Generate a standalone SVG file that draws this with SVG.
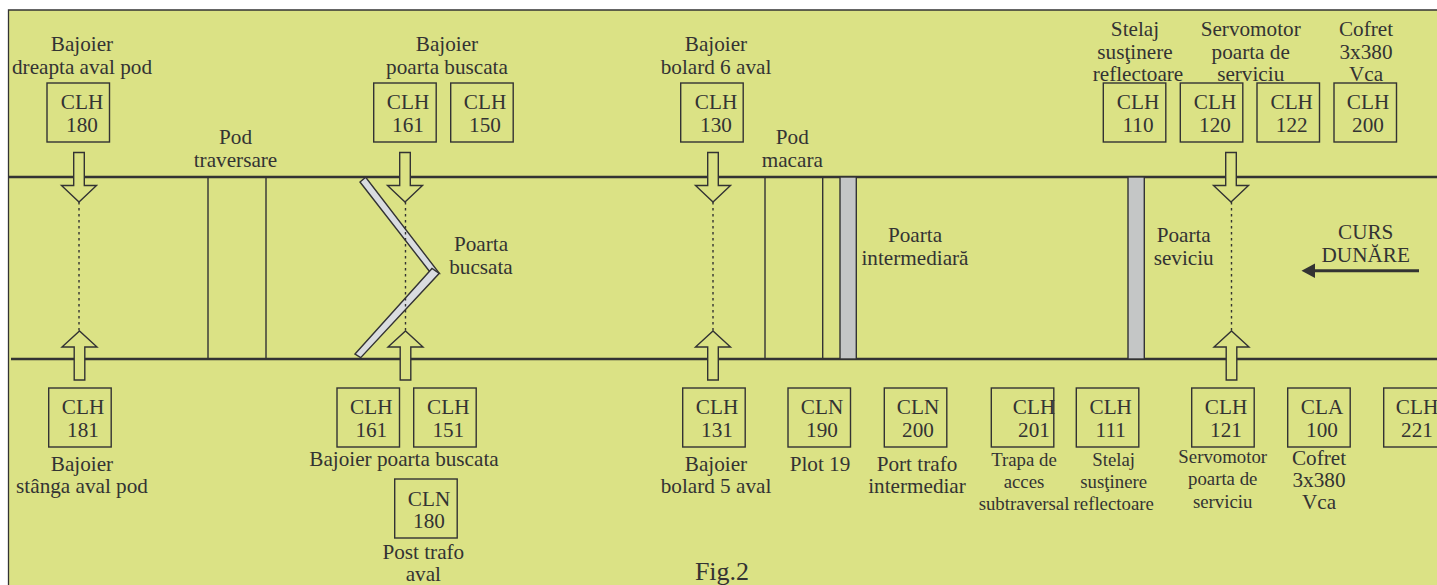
<svg xmlns="http://www.w3.org/2000/svg" width="1437" height="585" viewBox="0 0 1437 585">
<style>
text{font-family:"Liberation Serif","Times New Roman",serif;font-size:21.2px;fill:#333;text-anchor:middle}
.s{font-size:18.8px}
.f{font-size:26px}
.box{fill:none;stroke:#333;stroke-width:1.4}
.rail{stroke:#333;stroke-width:2.6;fill:none}
.v{stroke:#333;stroke-width:1.4;fill:none}
.arr{fill:#dbe285;stroke:#333;stroke-width:1.4;stroke-linejoin:miter}
.dot{stroke:#333;stroke-width:1.4;stroke-dasharray:2.5 3.5;fill:none}
.gate{fill:#c4c6c6;stroke:#333;stroke-width:1.4}
.leaf{fill:#d9dce0;stroke:#333;stroke-width:1.4}
</style>
<defs>
<path id="down" class="arr" d="M-5.300 -49.500H5.300V-16.500H17.500L0 0L-17.500 -16.500H-5.300Z"/>
<path id="up" class="arr" d="M-5.300 49H5.300V16H17.500L0 0L-17.500 16H-5.300Z"/>
</defs>
<rect width="1437" height="585" fill="#fff"/>
<path d="M1445 10H8.500V600H1445Z" fill="#dbe285" stroke="#333" stroke-width="1.300"/>
<g id="channel">
<path class="rail" d="M9 177H1437M11 359H1437"/>
<path class="v" d="M208 177V359M266 177V359M765 177V359M822.700 177V359"/>
<rect class="gate" x="840" y="177" width="16.300" height="182"/>
<rect class="gate" x="1128" y="177" width="16.300" height="182"/>
<polygon class="leaf" points="360,182 365.700,177.300 439.300,273.300 430,272"/>
<polygon class="leaf" points="355,354 432,268.500 439.300,273.300 360.700,357.700"/>
</g>
<g id="connectors">
<path class="dot" d="M79 202V331M405.500 202V331M713 202V331M1231.500 202V331"/>
<use href="#down" x="79" y="202"/><use href="#down" x="405" y="202"/><use href="#down" x="713" y="202"/><use href="#down" x="1231" y="202"/>
<use href="#up" x="79.500" y="331"/><use href="#up" x="405.500" y="331"/><use href="#up" x="713" y="331"/><use href="#up" x="1231.500" y="331"/>
</g>
<g id="curs-arrow">
<path d="M1419 270.700H1314" stroke="#333" stroke-width="3" fill="none"/>
<polygon points="1301.500,270.700 1315,263.500 1315,278" fill="#333"/>
</g>
<g id="n-clh180t"><rect class="box" x="47" y="83" width="62.500" height="59"/><text x="82" y="109">CLH</text><text x="82" y="132">180</text></g>
<g id="n-clh161t"><rect class="box" x="373.700" y="83" width="62.500" height="59"/><text x="408" y="109">CLH</text><text x="408" y="132">161</text></g>
<g id="n-clh150"><rect class="box" x="450.700" y="83" width="62.500" height="59"/><text x="485" y="109">CLH</text><text x="485" y="132">150</text></g>
<g id="n-clh130"><rect class="box" x="680.700" y="83" width="62.500" height="59"/><text x="716" y="109">CLH</text><text x="716" y="132">130</text></g>
<g id="n-clh110"><rect class="box" x="1103.300" y="83" width="62.500" height="59"/><text x="1138" y="109">CLH</text><text x="1138" y="132">110</text></g>
<g id="n-clh120"><rect class="box" x="1180.300" y="83" width="62.500" height="59"/><text x="1215" y="109">CLH</text><text x="1215" y="132">120</text></g>
<g id="n-clh122"><rect class="box" x="1257" y="83" width="62.500" height="59"/><text x="1291.700" y="109">CLH</text><text x="1291.700" y="132">122</text></g>
<g id="n-clh200"><rect class="box" x="1334" y="83" width="62.500" height="59"/><text x="1368" y="109">CLH</text><text x="1368" y="132">200</text></g>
<g id="n-clh181"><rect class="box" x="48.700" y="388" width="62.500" height="59"/><text x="83" y="414">CLH</text><text x="83" y="437">181</text></g>
<g id="n-clh161b"><rect class="box" x="337" y="388" width="62.500" height="59"/><text x="371.300" y="414">CLH</text><text x="371.300" y="437">161</text></g>
<g id="n-clh151"><rect class="box" x="413.700" y="388" width="62.500" height="59"/><text x="448.300" y="414">CLH</text><text x="448.300" y="437">151</text></g>
<g id="n-cln180"><rect class="box" x="394.700" y="479" width="62.500" height="59"/><text x="429" y="506">CLN</text><text x="429" y="528">180</text></g>
<g id="n-clh131"><rect class="box" x="682.700" y="388" width="62.500" height="59"/><text x="717" y="414">CLH</text><text x="717" y="437">131</text></g>
<g id="n-cln190"><rect class="box" x="788" y="388" width="62.500" height="59"/><text x="822" y="414">CLN</text><text x="822" y="437">190</text></g>
<g id="n-cln200"><rect class="box" x="884.300" y="388" width="62.500" height="59"/><text x="918" y="414">CLN</text><text x="918" y="437">200</text></g>
<g id="n-clh201"><rect class="box" x="991.300" y="388" width="62.500" height="59"/><text x="1034" y="414">CLH</text><text x="1034" y="437">201</text></g>
<g id="n-clh111"><rect class="box" x="1076.300" y="388" width="62.500" height="59"/><text x="1110.700" y="414">CLH</text><text x="1110.700" y="437">111</text></g>
<g id="n-clh121"><rect class="box" x="1191.700" y="388" width="62.500" height="59"/><text x="1226" y="414">CLH</text><text x="1226" y="437">121</text></g>
<g id="n-cla100"><rect class="box" x="1287.700" y="388" width="62.500" height="59"/><text x="1322" y="414">CLA</text><text x="1322" y="437">100</text></g>
<g id="n-clh221"><rect class="box" x="1383.700" y="388" width="62.500" height="59"/><text x="1417" y="414">CLH</text><text x="1417" y="437">221</text></g>
<g id="labels">
<text x="82" y="51">Bajoier</text><text x="82" y="74">dreapta aval pod</text>
<text x="235.500" y="144">Pod</text><text x="235.500" y="167">traversare</text>
<text x="447" y="51">Bajoier</text><text x="447" y="74">poarta buscata</text>
<text x="716" y="51">Bajoier</text><text x="716" y="74">bolard 6 aval</text>
<text x="792.300" y="144">Pod</text><text x="792.300" y="167">macara</text>
<text x="481" y="251">Poarta</text><text x="481" y="274">bucsata</text>
<text x="915" y="242">Poarta</text><text x="915" y="265">intermediară</text>
<text x="1183.700" y="242">Poarta</text><text x="1183.700" y="265">seviciu</text>
<text x="1135" y="36">Stelaj</text><text x="1135" y="59">susţinere</text><text x="1138" y="81">reflectoare</text>
<text x="1250.700" y="36">Servomotor</text><text x="1250.700" y="59">poarta de</text><text x="1250.700" y="81">serviciu</text>
<text x="1366" y="36">Cofret</text><text x="1366" y="59">3x380</text><text x="1366" y="81">Vca</text>
<text x="1365.700" y="239">CURS</text><text x="1365.700" y="262">DUNĂRE</text>
<text x="82" y="471">Bajoier</text><text x="82" y="493">stânga aval pod</text>
<text x="404" y="466">Bajoier poarta buscata</text>
<text x="423.300" y="559">Post trafo</text><text x="423.300" y="581">aval</text>
<text x="716" y="471">Bajoier</text><text x="716" y="493">bolard 5 aval</text>
<text x="820" y="471">Plot 19</text>
<text x="917" y="471">Port trafo</text><text x="917" y="493">intermediar</text>
<text class="s" x="1024" y="466">Trapa de</text><text class="s" x="1024" y="488">acces</text><text class="s" x="1024" y="510">subtraversal</text>
<text class="s" x="1113.700" y="466">Stelaj</text><text class="s" x="1113.700" y="488">susţinere</text><text class="s" x="1113.700" y="510">reflectoare</text>
<text class="s" x="1222.700" y="463">Servomotor</text><text class="s" x="1222.700" y="485">poarta de</text><text class="s" x="1222.700" y="507.500">serviciu</text>
<text x="1319" y="465">Cofret</text><text x="1319" y="487">3x380</text><text x="1319" y="509">Vca</text>
<text class="f" x="722" y="580">Fig.2</text>
</g>
</svg>
